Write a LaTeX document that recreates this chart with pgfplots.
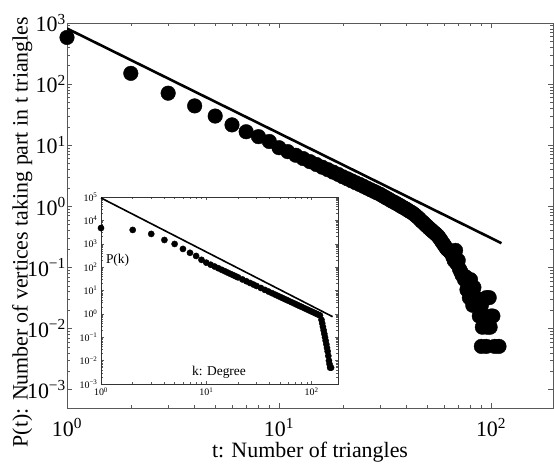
\documentclass[border=0pt]{standalone}
\usepackage{fontspec}
\setmainfont{Liberation Serif}
\usepackage{pgfplots}
\pgfplotsset{compat=1.18}
\usetikzlibrary{calc}

\pgfplotstableread{
t P
1 580
2 150
3 71
4 44
5 30
6 21.5
7 16.6
8 13.8
9 11.5
10 9.1
11 7.85
12 6.85
13 6.04
14 5.38
15 4.83
16 4.36
17 3.97
18 3.63
19 3.33
20 3.04
21 2.82
22 2.61
23 2.43
24 2.28
25 2.13
26 1.99
27 1.87
28 1.76
29 1.66
30 1.57
31 1.47
32 1.38
33 1.30
34 1.22
35 1.16
36 1.10
37 1.04
38 0.985
39 0.935
40 0.89
41 0.84
42 0.80
43 0.76
44 0.71
45 0.665
46 0.62
47 0.57
48 0.54
49 0.50
50 0.47
51 0.44
52 0.415
53 0.39
54 0.37
55 0.35
56 0.33
57 0.305
58 0.28
59 0.255
60 0.235
61 0.215
62 0.20
63 0.19
64 0.18
65 0.17
66 0.15
67 0.13
68 0.19
69 0.115
70 0.13
71 0.094
72 0.085
73 0.075
75 0.063
76 0.07
77 0.043
78 0.055
79 0.032
80 0.063
81 0.043
82 0.024
83 0.047
85 0.032
86 0.024
88 0.016
90 0.024
91 0.0105
93 0.016
95 0.032
96 0.0105
98 0.032
99 0.0105
100 0.016
102 0.016
90 0.0051
95 0.0051
104 0.0051
109 0.0051
}\triangles

\pgfplotstableread{
k P
1 4700
2 3900
3 2630
4 1450
5 980
6 600
7 410
8 300
9 205
10 155
11 127
12 106
13 89.5
14 76.7
15 66.4
16 58.0
17 51.1
18 45.4
19 40.5
20 36.4
22 29.8
24 24.9
26 21.0
28 18.0
30 15.6
33 12.8
36 10.6
39 9.01
42 7.72
45 6.68
48 5.84
51 5.14
54 4.56
57 4.08
60 3.66
64 3.20
68 2.82
72 2.50
76 2.23
80 2.01
85 1.77
90 1.57
95 1.40
100 1.26
105 1.14
110 1.03
115 0.94
120 0.86
124 0.56
126 0.40
128 0.28
130 0.20
132 0.14
134 0.10
136 0.071
138 0.050
140 0.035
142 0.025
144 0.016
146 0.010
148 0.0071
150 0.005
153 0.005
}\degrees

\newcommand{\tl}[1]{10\textsuperscript{#1}}

\begin{document}
\begin{tikzpicture}
\begin{axis}[
  name=main,
  scale only axis,
  width=486bp, height=385bp,
  xmode=log, ymode=log,
  xmin=1, xmax=196,
  ymin=5e-4, ymax=1000,
  xtick={1,10,100},
  xticklabels={\tl{0},\tl{1},\tl{2}},
  ytick={1e-3,1e-2,1e-1,1,10,100,1000},
  yticklabels={\tl{−3},\tl{−2},\tl{−1},\tl{0},\tl{1},\tl{2},\tl{3}},
  ticklabel style={font=\fontsize{22}{24}\selectfont},
  xticklabel style={yshift=-7bp},
  yticklabel style={inner xsep=1bp},
  axis line style={draw=black!65, line width=0.8pt},
  major tick length=5bp, minor tick length=3bp,
  every tick/.style={draw=black!65, line width=0.6pt},
  xlabel={t: Number of triangles},
  ylabel={P(t): Number of vertices taking part in t triangles},
  label style={font=\fontsize{22}{24}\selectfont},
  xlabel style={yshift=1bp},
  ylabel style={at={(rel axis cs:-0.1132,0.457)}, anchor=north, inner sep=0pt},
]
\addplot[only marks, mark=*, mark size=7.3bp, black] table[x=t, y=P] {\triangles};
\addplot[black, line width=2.6bp] coordinates {(1,813) (112,0.249)};
\end{axis}

\begin{axis}[
  scale only axis,
  at={($(main.south west)+(34bp,24bp)$)},
  anchor=south west,
  width=237bp, height=187bp,
  xmode=log, ymode=log,
  xmin=1, xmax=178,
  ymin=1e-3, ymax=1e5,
  xtick={1,10,100},
  xticklabels={\tl{0},\tl{1},\tl{2}},
  ytick={1e-3,1e-2,1e-1,1,10,100,1000,1e4,1e5},
  yticklabels={\tl{−3},\tl{−2},\tl{−1},\tl{0},\tl{1},\tl{2},\tl{3},\tl{4},\tl{5}},
  ticklabel style={font=\fontsize{10}{11}\selectfont},
  axis background/.style={fill=white},
  axis line style={draw=black!80, line width=0.8pt},
  major tick length=3bp, minor tick length=1.8bp,
  every tick/.style={draw=black!65, line width=0.5pt},
  clip=false,
]
\addplot[only marks, mark=*, mark size=3.1bp, black] table[x=k, y=P] {\degrees};
\addplot[black, line width=1.6bp] coordinates {(1,91200) (158,0.76)};
\node[font=\fontsize{13.5}{14}\selectfont] at (rel axis cs:0.07,0.663) {P(k)};
\node[font=\fontsize{13.5}{14}\selectfont] at (rel axis cs:0.498,0.065) {k: Degree};
\end{axis}

\pgfresetboundingbox
\path ([xshift=-67bp, yshift=-58bp]main.south west) rectangle ([xshift=1bp, yshift=23bp]main.north east);
\end{tikzpicture}
\end{document}
